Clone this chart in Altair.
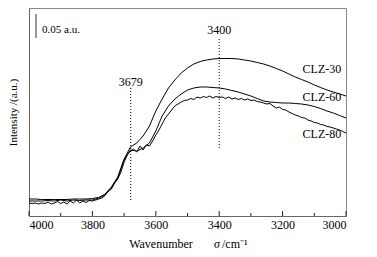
import altair as alt
import pandas as pd

# wavenumbers (cm^-1) and intensities (arbitrary units)
wn20 = list(range(4000, 2999, -20))
wn10 = list(range(4000, 2999, -10))

py_clz30 = [199, 199, 199.5, 199.5, 199.5, 199.5, 199.5, 199, 199, 199,
            198.5, 197.5, 194, 187, 177, 159, 147, 143, 136, 126,
            111, 99, 88, 80, 73, 68, 64, 61.5, 60, 59,
            58.5, 58.5, 58.5, 59, 60, 61, 62.5, 64, 66, 68.5,
            71, 74, 77, 79.5, 82, 85, 87.5, 90, 92, 94, 96]

py_clz60 = [201, 201, 201, 200.5, 201, 200, 201, 200, 200.5, 200,
            200, 198, 195, 188, 178, 160, 150, 151, 148, 143,
            131, 116, 106, 99, 94, 90, 88, 87, 87, 87.5,
            88, 89, 90.5, 92, 94, 96, 98.5, 101, 102, 102.5,
            103, 103, 103.5, 104, 105, 106.5, 108.5, 111, 113, 115.5, 118]

py_clz80 = [203, 203.5, 203, 204, 203, 203.5, 202, 204, 203, 201.5,
            203.5, 202, 204, 201, 203, 200, 203, 201, 202.5, 200.5,
            201, 200, 199, 198, 195.5, 191, 189, 183, 179, 172,
            162, 155, 151, 149, 152, 146, 150, 145, 146, 141,
            135, 130, 124, 118, 114, 110, 106, 104, 102, 100.5,
            100, 98.5, 99.5, 97, 98, 96.5, 97.5, 96, 98, 96.5,
            97.5, 97, 98.5, 97, 99, 98, 99.5, 98.5, 100, 99,
            100.5, 100, 101.5, 102, 103, 104, 103.5, 106, 108, 107,
            109.5, 110, 112, 113.5, 115, 116, 117.5, 118, 120, 121,
            122.5, 123, 124.5, 125, 126.5, 127, 128, 129, 130, 131.5, 133]

TOP = 216  # intensity = TOP - picture row
rows = []
for name, wn, py in [("CLZ-30", wn20, py_clz30), ("CLZ-60", wn20, py_clz60), ("CLZ-80", wn10, py_clz80)]:
    for w, p in zip(wn, py):
        rows.append({"wn": w, "I": TOP - p, "s": name})
df = pd.DataFrame(rows)

tick_wn = list(range(4000, 2999, -100))
tick_len = [5 if w % 200 == 0 else 3 for w in tick_wn]
ticks = pd.DataFrame({"wn": tick_wn, "y0": [0] * len(tick_wn), "len": tick_len})

peaks = pd.DataFrame({"wn": [3679, 3400], "y1": [16, 68], "y2": [128, 178],
                      "ly": [134, 186], "lab": ["3679", "3400"]})
labels = pd.DataFrame({"wn": [3076, 3076, 3076], "I": [147, 119, 82],
                       "lab": ["CLZ-30", "CLZ-60", "CLZ-80"]})
bar = pd.DataFrame({"wn": [3978], "y1": [178], "y2": [202], "tx": [3959], "ty": [186], "lab": ["0.05 a.u."]})

FONT = "Liberation Serif"
xs = alt.Scale(domain=[4000, 3000], nice=False)
ys = alt.Scale(domain=[0, 208], nice=False)

base_x = alt.X("wn:Q", scale=xs,
               axis=alt.Axis(values=[4000, 3800, 3600, 3400, 3200, 3000], format="d",
                             ticks=False, labelFont=FONT, labelFontSize=12, labelColor="black",
                             labelPadding=3, domainColor="#666", title=None, grid=False))
base_y = alt.Y("I:Q", scale=ys,
               axis=alt.Axis(labels=False, ticks=False, grid=False, domainColor="#666",
                             title="Intensity /(a.u.)", titleFont=FONT, titleFontSize=11,
                             titleFontWeight="normal", titleColor="black", titlePadding=11))

lines = alt.Chart(df).mark_line(color="black", strokeWidth=1).encode(
    x=base_x, y=base_y, detail="s:N")

tick_rules = alt.Chart(ticks).mark_rule(color="#222", strokeWidth=1).encode(
    x=alt.X("wn:Q", scale=xs), y=alt.Y("y0:Q", scale=ys), y2="len:Q")

peak_rules = alt.Chart(peaks).mark_rule(color="black", strokeWidth=1, strokeDash=[1, 2]).encode(
    x=alt.X("wn:Q", scale=xs), y=alt.Y("y1:Q", scale=ys), y2="y2:Q")
peak_text = alt.Chart(peaks).mark_text(font=FONT, fontSize=12, color="black", baseline="middle").encode(
    x=alt.X("wn:Q", scale=xs), y=alt.Y("ly:Q", scale=ys), text="lab:N")

curve_text = alt.Chart(labels).mark_text(font=FONT, fontSize=12, color="black", baseline="middle").encode(
    x=alt.X("wn:Q", scale=xs), y=alt.Y("I:Q", scale=ys), text="lab:N")

bar_rule = alt.Chart(bar).mark_rule(color="#777", strokeWidth=1.5).encode(
    x=alt.X("wn:Q", scale=xs), y=alt.Y("y1:Q", scale=ys), y2="y2:Q")
bar_text = alt.Chart(bar).mark_text(font=FONT, fontSize=11, color="black", align="left", baseline="middle").encode(
    x=alt.X("tx:Q", scale=xs), y=alt.Y("ty:Q", scale=ys), text="lab:N")

t1 = alt.Chart(pd.DataFrame({"t": ["Wavenumber"]})).mark_text(
    font=FONT, fontSize=12, color="black", baseline="middle", align="center").encode(
    x=alt.value(132), y=alt.value(236), text="t:N")
t2 = alt.Chart(pd.DataFrame({"t": ["σ"]})).mark_text(
    font=FONT, fontSize=12, fontStyle="italic", color="black", baseline="middle", align="center").encode(
    x=alt.value(188), y=alt.value(236), text="t:N")
t3 = alt.Chart(pd.DataFrame({"t": ["/cm⁻¹"]})).mark_text(
    font=FONT, fontSize=12, color="black", baseline="middle", align="left").encode(
    x=alt.value(193), y=alt.value(236), text="t:N")

chart = alt.layer(lines, tick_rules, peak_rules, peak_text, curve_text, bar_rule, bar_text, t1, t2, t3).properties(
    width=317, height=208,
    autosize=alt.AutoSizeParams(type="none"),
    padding={"left": 21, "top": 0, "right": 15, "bottom": 35},
    background="white",
).configure_view(stroke="#888", strokeWidth=1)

chart.save("out.html", embed_options={"renderer": "svg", "actions": False})
